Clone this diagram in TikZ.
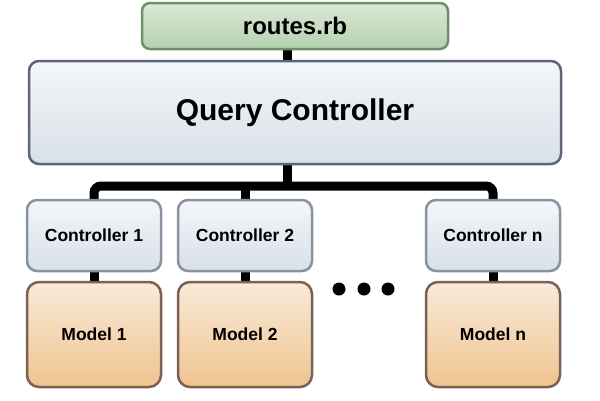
\documentclass[tikz,border=0pt]{standalone}
\usepackage{fontspec}
\setmainfont{Liberation Sans}
\usetikzlibrary{positioning, backgrounds}
\definecolor{routesTop}{HTML}{DAEAD6}
\definecolor{routesBot}{HTML}{B4D1AF}
\definecolor{routesLine}{HTML}{6F8F68}
\definecolor{ctrlTop}{HTML}{F4F6F9}
\definecolor{ctrlBot}{HTML}{D8E0E8}
\definecolor{queryLine}{HTML}{5C6677}
\definecolor{ctrlLine}{HTML}{8A92A2}
\definecolor{modelTop}{HTML}{F9EADA}
\definecolor{modelBot}{HTML}{EFC48E}
\definecolor{modelLine}{HTML}{7A6055}
\tikzset{
  % box styles
  box/.style={
    line width = 2.5pt,
    outer sep = 0pt,
    inner sep = 0pt
  },
  rbox/.style={box, rounded corners=8pt, draw=routesLine,
    top color=routesTop, bottom color=routesBot,
    minimum width=306pt, minimum height=46pt,
    font=\bfseries\fontsize{24}{28}\selectfont},
  qbox/.style={box, rounded corners=10pt, draw=queryLine,
    top color=ctrlTop, bottom color=ctrlBot,
    minimum width=532pt, minimum height=103pt,
    font=\bfseries\fontsize{30}{36}\selectfont},
  cbox/.style={box, rounded corners=10pt, draw=ctrlLine,
    top color=ctrlTop, bottom color=ctrlBot,
    minimum width=134pt, minimum height=71pt,
    font=\bfseries\fontsize{17.5}{21}\selectfont},
  mbox/.style={box, rounded corners=12pt, draw=modelLine,
    top color=modelTop, bottom color=modelBot,
    minimum width=134pt, minimum height=105pt,
    font=\bfseries\fontsize{17.5}{21}\selectfont},
  dotmark/.style={circle, fill=black, minimum size=13pt, inner sep=0pt},
  % connector style
  bus/.style={
    line width = 9pt
  },
}

\begin{document}
\begin{tikzpicture}[x=1pt, y=-1pt]
          \useasboundingbox (0,0) rectangle (600,400);
          \node (routes) [rbox] at (295,26) {routes.rb};
          \node (qc) [qbox
                     , below=12pt of routes
                     ]
                     {Query Controller};

          \node (c1) [cbox
                     , below right=36pt and -2pt of qc.south west
                     ]
                     {Controller 1};
          \node (c2) [cbox
                     , right=17pt of c1
                     ]
                     {Controller 2};
          \node (cn) [cbox
                     , below left=36pt and 1pt of qc.south east
                     ]
                     {Controller n};

          \node (m1) [mbox, below=11pt of c1] {Model 1};
          \node (m2) [mbox, below=11pt of c2] {Model 2};
          \node (mn) [mbox, below=11pt of cn] {Model n};

          \foreach \i/\x in {1/339, 2/364, 3/388}
              \node (dot\i) [dotmark] at (\x,289) {};

          \coordinate (hub) at (287,186);

          \begin{scope}[on background layer]
          \draw[bus] (routes.south -| hub) -- (qc.north -| hub);
          \draw[bus] (qc.south -| hub) -- (hub);
          \draw[bus, rounded corners=7pt] (c1.north) |- (hub) -| (cn.north);
          \draw[bus] (c2.north) -- (c2.north |- hub);

          \draw[bus] (c1.south) -- (m1.north);
          \draw[bus] (c2.south) -- (m2.north);
          \draw[bus] (cn.south) -- (mn.north);
          \end{scope}
      \end{tikzpicture}
\end{document}
